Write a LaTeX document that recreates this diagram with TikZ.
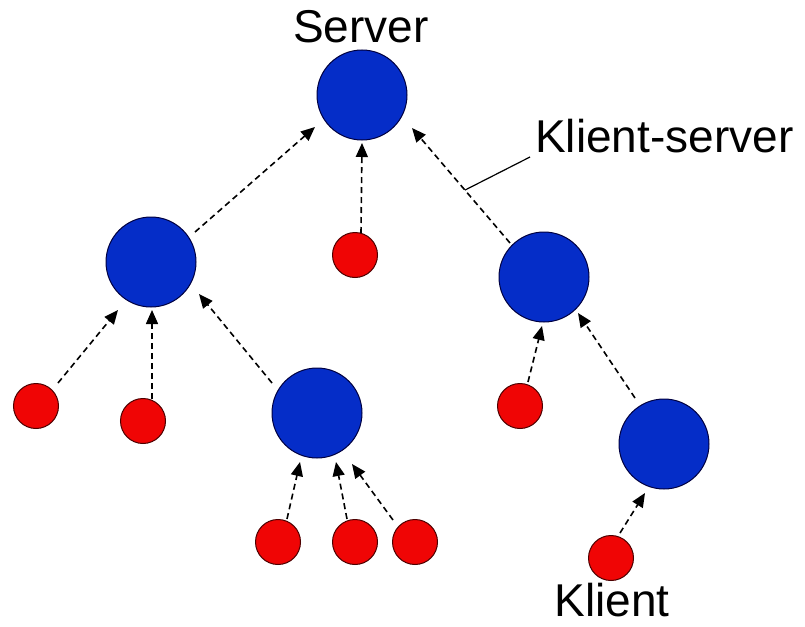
\documentclass[tikz,border=0pt]{standalone}
\usepackage{fontspec}
\setmainfont{Liberation Sans}
\usetikzlibrary{calc,arrows.meta}
\definecolor{nodeblue}{RGB}{5,45,200}
\definecolor{nodered}{RGB}{240,5,5}

\begin{document}
\begin{tikzpicture}[x=1pt,y=-1pt,
  srvnode/.style={circle,draw=black!75!blue,line width=1pt,fill=nodeblue,
                  minimum size=90pt,inner sep=0pt},
  clinode/.style={circle,draw=black!70!red,line width=1pt,fill=nodered,
                  minimum size=45pt,inner sep=0pt},
  link/.style={draw=black,line width=1.6pt,dash pattern=on 6pt off 4pt,
               -{Triangle[length=14pt,width=12pt]}},
  lbl/.style={font=\fontsize{46}{50}\selectfont,inner sep=0pt},
  callout/.style={draw=black,line width=1.2pt}]

\useasboundingbox (0,0) rectangle (805,626);

% servers
\node[srvnode] (srv) at (362,95)  {};
\node[srvnode] (cL)  at (151,262) {};
\node[srvnode] (cR)  at (544,277) {};
\node[srvnode] (cM)  at (317,413) {};
\node[srvnode] (cLR) at (664,444) {};

% clients
\node[clinode] (r0) at (355,255) {};
\node[clinode] (r1) at (36,406)  {};
\node[clinode] (r2) at (143,421) {};
\node[clinode] (r3) at (520,406) {};
\node[clinode] (r4) at (278,542) {};
\node[clinode] (r5) at (355,542) {};
\node[clinode] (r6) at (415,542) {};
\node[clinode] (r7) at (611,558) {};

% labels
\node[lbl,anchor=base]      (lsrv) at (361,43)  {Server};
\node[lbl,anchor=base west] (lks)  at (535,152) {Klient-server};
\node[lbl,anchor=base]      (lkl)  at (612,616) {Klient};

% client-server links
\draw[link] ($(cL)+(44,-30)$)  -- ($(srv)+(-47,32)$);
\draw[link] ($(r0)+(6,-22)$)   -- ($(srv)+(0,48)$);
\draw[link] ($(cR)+(-34,-34)$) -- coordinate[pos=0.46] (tap) ($(srv)+(50,33)$);
\draw[link] ($(r1)+(22,-23)$)  -- ($(cL)+(-33,48)$);
\draw[link] ($(r2)+(9,-22)$)   -- ($(cL)+(1,48)$);
\draw[link] ($(cM)+(-45,-30)$) -- ($(cL)+(48,32)$);
\draw[link] ($(r3)+(8,-24)$)   -- ($(cR)+(-2,49)$);
\draw[link] ($(cLR)+(-29,-46)$) -- ($(cR)+(34,36)$);
\draw[link] ($(r7)+(9,-25)$)   -- ($(cLR)+(-19,49)$);
\draw[link] ($(r4)+(9,-23)$)   -- ($(cM)+(-17,49)$);
\draw[link] ($(r5)+(-8,-23)$)  -- ($(cM)+(19,49)$);
\draw[link] ($(r6)+(-22,-22)$) -- ($(cM)+(35,51)$);

% callout for the link label
\draw[callout] (tap) -- ($(lks.base west)+(-5,5)$);

\end{tikzpicture}
\end{document}
